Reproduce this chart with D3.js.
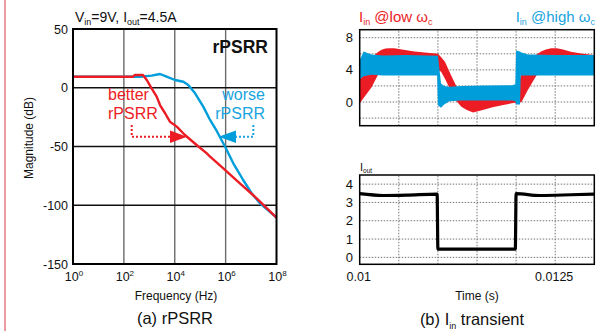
<!DOCTYPE html>
<html><head><meta charset="utf-8">
<script src="https://cdn.jsdelivr.net/npm/d3@7"></script>
<style>
html,body{margin:0;padding:0;background:#fff;}
svg{display:block;font-family:"Liberation Sans",Arial,Helvetica,sans-serif;}
</style></head>
<body>
<svg id="c" width="600" height="331"></svg>
<script>
// ---------- data: (a) rPSRR ----------
const redFreq = [1, 229, 275, 562, 794, 1230, 1950, 2630, 4170, 6460, 12000, 25100, 72400, 182000, 245000, 813000, 3630000, 16600000, 100000000];
const redDb   = [9.4, 9.4, 10.9, 10.9, 6.6, -0.5, -7.6, -14.7, -21.7, -28.9, -33.1, -40.2, -48.7, -55.8, -58.7, -68.6, -81.3, -94.1, -110.5];
const blueFreq = [1, 427, 1230, 2630, 4790, 10200, 21900, 33900, 63100, 132000, 245000, 447000, 955000, 2000000, 4900000, 10500000, 22400000, 100000000];
const blueDb   = [9.4, 9.4, 10.3, 11.7, 9.4, 6.6, 5.1, 2.3, -4.7, -16.1, -27.4, -36.8, -50.2, -64.3, -78.5, -89.8, -98.3, -110.5];
const magTicks = [50, 0, -50, -100, -150];
const freqTickExp = [0, 2, 4, 6, 8];

// ---------- data: (b) Iin transient (ripple envelopes) ----------
const redT  = [0.01000,0.01005,0.01015,0.01023,0.01028,0.01033,0.01038,0.01044,0.01050,0.01070,0.01100,0.01104,0.01109,0.01117,0.01123,0.01130,0.01137,0.01145,0.01155,0.01170,0.01182,0.01198,0.01200,0.01207,0.01215,0.01226,0.01232,0.01238,0.01245,0.01252,0.01260,0.01270,0.01285,0.01300];
const redHi = [2.8,4.0,5.5,6.2,6.5,6.65,6.7,6.68,6.6,6.3,6.0,5.6,5.0,3.3,2.1,1.0,0.5,0.3,0.4,0.6,0.8,1.0,1.5,3.5,5.0,5.9,6.3,6.55,6.7,6.68,6.55,6.25,6.0,5.85];
const redLo = [-0.2,0.5,1.8,3.3,3.9,4.2,4.3,4.3,4.3,4.1,3.9,3.8,2.9,1.3,0.2,-0.6,-1.0,-1.3,-1.05,-0.65,-0.4,-0.1,-0.2,0.0,1.5,3.3,3.9,4.2,4.3,4.3,4.3,4.2,4.0,3.9];
const blueT  = [0.01000,0.01005,0.01015,0.01030,0.01060,0.01099,0.01100,0.01104,0.01108,0.01115,0.01130,0.01160,0.01195,0.01199,0.01200,0.01205,0.01206,0.01215,0.01250,0.01300];
const blueHi = [5.2,6.3,5.9,5.8,5.85,5.75,5.75,2.3,2.0,1.9,2.0,2.05,2.1,2.2,6.4,6.3,6.2,5.9,5.85,5.85];
const blueLo = [2.8,3.2,3.4,3.3,3.3,3.3,-0.4,-0.7,-0.3,0.1,0.2,0.2,0.2,0.1,-0.3,-0.3,3.3,3.3,3.3,3.3];
const iinTicks = [0, 4, 8];
const iinGrid = [-2, 0, 2, 4, 6, 8];

const ioutT = [0.01000,0.01030,0.01060,0.01099,0.01100,0.01199,0.01200,0.01230,0.01270,0.01300];
const ioutV = [3.48,3.38,3.40,3.46,0.45,0.45,3.48,3.38,3.42,3.46];
const ioutTicks = [0,1,2,3,4];
const timeTicks = [0.01, 0.0125];
const timeGrid = [0.0105, 0.011, 0.0115, 0.012, 0.0125];

const RED = "#ec1c24", BLUE = "#009ddb", TBLUE = "#1aa3de";

const svg = d3.select("#c");

// left red rule
svg.append("line").attr("x1",5).attr("x2",5).attr("y1",0).attr("y2",331)
  .attr("stroke","#e87a7f").attr("stroke-width",1.5);

// ================= (a) =================
const xA = d3.scaleLog().domain([1,1e8]).range([73,276.5]);
const yA = d3.scaleLinear().domain([-150,50]).range([264,29]);
const gA = svg.append("g");

gA.selectAll(".vg").data(freqTickExp.slice(1,4)).enter().append("line")
  .attr("x1",d=>xA(Math.pow(10,d))).attr("x2",d=>xA(Math.pow(10,d)))
  .attr("y1",yA(50)).attr("y2",yA(-150)).attr("stroke","#6b6b6b").attr("stroke-width",1.4);
gA.selectAll(".hg").data(magTicks.slice(1,4)).enter().append("line")
  .attr("x1",xA(1)).attr("x2",xA(1e8)).attr("y1",d=>yA(d)).attr("y2",d=>yA(d))
  .attr("stroke","#111").attr("stroke-width",1.3);

const lineA = d3.line().x(d=>xA(d[0])).y(d=>yA(d[1]));
gA.append("path").datum(blueFreq.map((f,i)=>[f,blueDb[i]])).attr("d",lineA)
  .attr("fill","none").attr("stroke",BLUE).attr("stroke-width",2.4).attr("stroke-linejoin","round");
gA.append("path").datum(redFreq.map((f,i)=>[f,redDb[i]])).attr("d",lineA)
  .attr("fill","none").attr("stroke",RED).attr("stroke-width",2.4).attr("stroke-linejoin","round");

gA.append("rect").attr("x",xA(1)).attr("y",yA(50)).attr("width",xA(1e8)-xA(1)).attr("height",yA(-150)-yA(50))
  .attr("fill","none").attr("stroke","#000").attr("stroke-width",2);

gA.selectAll(".yt").data(magTicks).enter().append("text")
  .attr("x",68).attr("y",d=>yA(d)+4.5).attr("text-anchor","end").attr("font-size",12.5).attr("fill","#111")
  .text(d=>d);
const xt = gA.selectAll(".xt").data(freqTickExp).enter().append("text")
  .attr("x",d=>xA(Math.pow(10,d))+1).attr("y",281).attr("text-anchor","middle").attr("font-size",12.5).attr("fill","#111");
xt.append("tspan").text("10");
xt.append("tspan").attr("dy",-5).attr("font-size",8).text(d=>d);

gA.append("text").attr("transform","translate(33,138) rotate(-90)").attr("text-anchor","middle")
  .attr("font-size",12).attr("fill","#111").text("Magnitude (dB)");
gA.append("text").attr("x",176).attr("y",300).attr("text-anchor","middle").attr("font-size",12).attr("fill","#111").text("Frequency (Hz)");
gA.append("text").attr("x",175).attr("y",324).attr("text-anchor","middle").attr("font-size",16.5).attr("fill","#111").text("(a) rPSRR");

const tA = gA.append("text").attr("x",75).attr("y",21.5).attr("font-size",14).attr("fill","#111");
tA.append("tspan").text("V");
tA.append("tspan").attr("dy",3).attr("font-size",9).text("in");
tA.append("tspan").attr("dy",-3).text("=9V, I");
tA.append("tspan").attr("dy",3).attr("font-size",9).text("out");
tA.append("tspan").attr("dy",-3).text("=4.5A");
gA.append("text").attr("x",268).attr("y",53).attr("text-anchor","end").attr("font-size",17.5).attr("font-weight","bold").attr("fill","#111").text("rPSRR");

gA.append("text").attr("x",108).attr("y",100).attr("font-size",16).attr("fill",RED).text("better");
gA.append("text").attr("x",108).attr("y",118.5).attr("font-size",16).attr("fill",RED).text("rPSRR");
gA.append("text").attr("x",265).attr("y",100).attr("text-anchor","end").attr("font-size",16).attr("fill",TBLUE).text("worse");
gA.append("text").attr("x",265).attr("y",118.5).attr("text-anchor","end").attr("font-size",16).attr("fill",TBLUE).text("rPSRR");
gA.append("path").attr("d","M131.7,125V136.7H171").attr("fill","none").attr("stroke",RED).attr("stroke-width",2).attr("stroke-dasharray","2,2");
gA.append("path").attr("d","M170,130.5L187,136.7L170,143Z").attr("fill",RED);
gA.append("path").attr("d","M253.3,125V136.7H235").attr("fill","none").attr("stroke",TBLUE).attr("stroke-width",2).attr("stroke-dasharray","2,2");
gA.append("path").attr("d","M236,130.5L218.5,136.7L236,143Z").attr("fill",BLUE);

// ================= (b) =================
const xB = d3.scaleLinear().domain([0.01,0.013]).range([359.7,594.3]);
const yB1 = d3.scaleLinear().domain([-2.95,9]).range([125.7,29.7]);
const yB2 = d3.scaleLinear().domain([-0.38,4.5]).range([264.3,175]);
const gB = svg.append("g");

function grid(y, yvals){
  gB.selectAll(null).data(yvals).enter().append("line")
    .attr("x1",xB(0.01)).attr("x2",xB(0.013)).attr("y1",d=>y(d)).attr("y2",d=>y(d))
    .attr("stroke","#777").attr("stroke-width",1).attr("stroke-dasharray","1.5,1.5");
  gB.selectAll(null).data(timeGrid).enter().append("line")
    .attr("x1",d=>xB(d)).attr("x2",d=>xB(d)).attr("y1",y.range()[0]).attr("y2",y.range()[1])
    .attr("stroke","#777").attr("stroke-width",1).attr("stroke-dasharray","1.5,1.5");
}
grid(yB1, iinGrid);
grid(yB2, ioutTicks);

const areaR = d3.area().x(d=>xB(d[0])).y0(d=>yB1(d[2])).y1(d=>yB1(d[1]));
gB.append("path").datum(redT.map((t,i)=>[t,redHi[i],redLo[i]])).attr("d",areaR).attr("fill",RED);
const areaB = d3.area().x(d=>xB(d[0])).y0(d=>yB1(d[2])).y1(d=>yB1(d[1]));
gB.append("path").datum(blueT.map((t,i)=>[t,blueHi[i],blueLo[i]])).attr("d",areaB).attr("fill",BLUE);

const lineB = d3.line().x(d=>xB(d[0])).y(d=>yB2(d[1])).curve(d3.curveMonotoneX);
gB.append("path").datum(ioutT.map((t,i)=>[t,ioutV[i]])).attr("d",lineB)
  .attr("fill","none").attr("stroke","#000").attr("stroke-width",3.2);

[yB1,yB2].forEach(y=>{
  gB.append("rect").attr("x",xB(0.01)).attr("y",y.range()[1]).attr("width",xB(0.013)-xB(0.01)).attr("height",y.range()[0]-y.range()[1])
    .attr("fill","none").attr("stroke","#000").attr("stroke-width",1.5);
});

gB.selectAll(null).data(iinTicks).enter().append("text").attr("x",353).attr("y",d=>yB1(d)+4.5)
  .attr("text-anchor","end").attr("font-size",13).attr("fill","#111").text(d=>d);
gB.selectAll(null).data(ioutTicks).enter().append("text").attr("x",353).attr("y",d=>yB2(d)+4.5)
  .attr("text-anchor","end").attr("font-size",13).attr("fill","#111").text(d=>d);
gB.selectAll(null).data(timeTicks).enter().append("text").attr("x",d=>xB(d)-1).attr("y",281)
  .attr("text-anchor","middle").attr("font-size",12.5).attr("fill","#111").text(d=>d);
gB.append("text").attr("x",477).attr("y",300).attr("text-anchor","middle").attr("font-size",12).attr("fill","#111").text("Time (s)");

const cap = gB.append("text").attr("x",472).attr("y",325).attr("text-anchor","middle").attr("font-size",16.5).attr("fill","#111");
cap.append("tspan").text("(b) I");
cap.append("tspan").attr("dy",4).attr("font-size",9).text("in");
cap.append("tspan").attr("dy",-4).text(" transient");

const io = gB.append("text").attr("x",360).attr("y",171).attr("font-size",11).attr("fill","#111");
io.append("tspan").text("I");
io.append("tspan").attr("dy",2).attr("font-size",6.5).text("out");

const l1 = gB.append("text").attr("x",359).attr("y",21.5).attr("font-size",15).attr("fill",RED);
l1.append("tspan").text("I");
l1.append("tspan").attr("dy",3).attr("font-size",9).text("in");
l1.append("tspan").attr("dy",-3).text(" @low ω");
l1.append("tspan").attr("dy",3).attr("font-size",9).text("c");
const l2 = gB.append("text").attr("x",595).attr("y",21.5).attr("text-anchor","end").attr("font-size",15).attr("fill",TBLUE);
l2.append("tspan").text("I");
l2.append("tspan").attr("dy",3).attr("font-size",9).text("in");
l2.append("tspan").attr("dy",-3).text(" @high ω");
l2.append("tspan").attr("dy",3).attr("font-size",9).text("c");
</script>
</body></html>
